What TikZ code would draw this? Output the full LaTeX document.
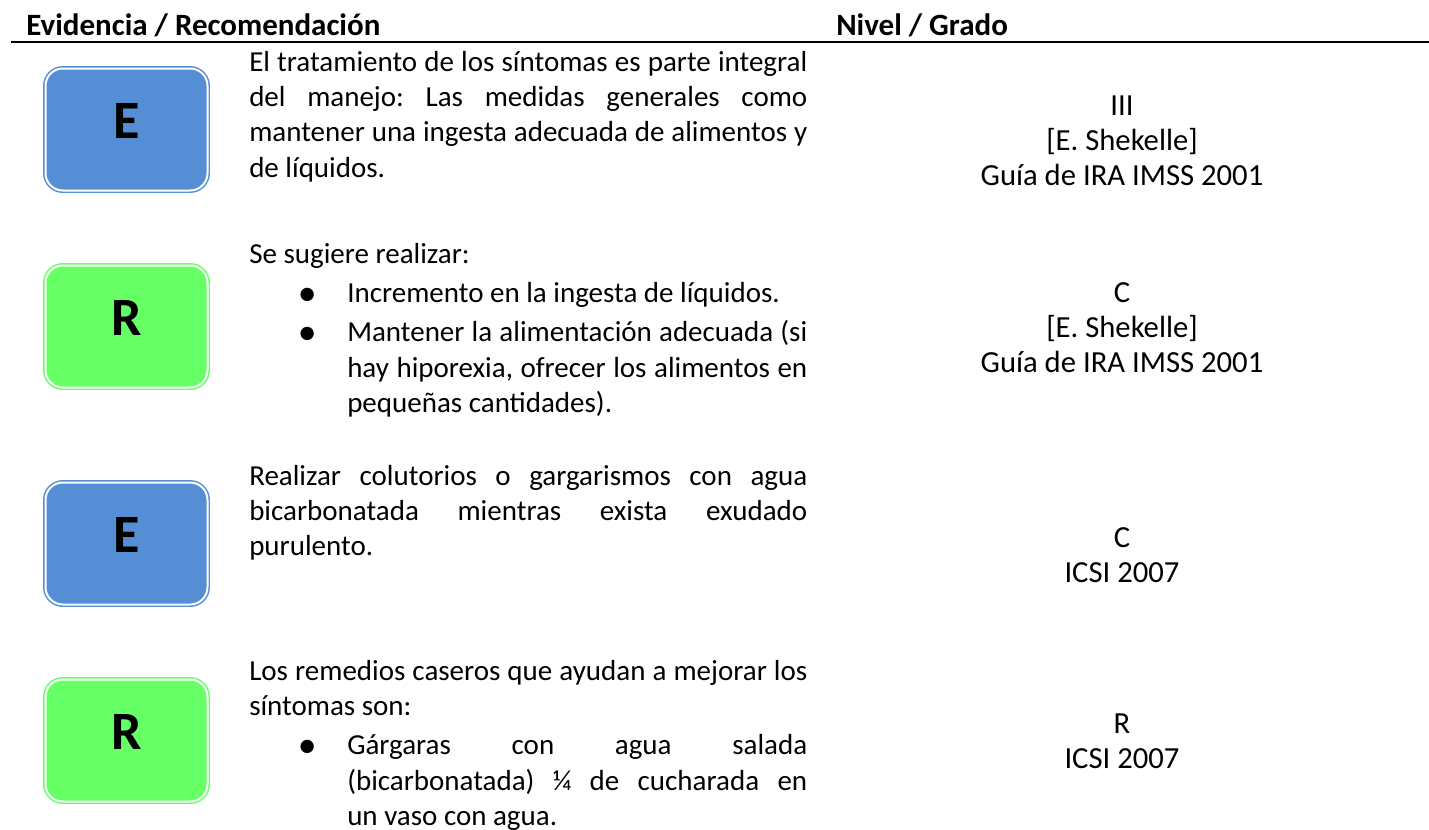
\documentclass[tikz,border=0pt]{standalone}
\usepackage{fontspec}
\setmainfont{Carlito}
\usepackage{xcolor}
\usepackage{tikz}

\definecolor{evblue}{RGB}{85,142,213}
\definecolor{regreen}{RGB}{102,255,102}

\newcommand{\bodyfont}{\fontsize{21.75pt}{26.6pt}\selectfont}
\newcommand{\gradofont}{\fontsize{23pt}{26.25pt}\selectfont}
\newcommand{\vineta}{\makebox[0pt][c]{\raisebox{-2.2pt}{\scalebox{1.3}{\textbullet}}}}
\newenvironment{vinetas}{\begin{list}{\vineta}{%
	\setlength{\leftmargin}{73.5pt}\setlength{\labelwidth}{0pt}%
	\setlength{\labelsep}{30pt}\setlength{\topsep}{3pt}%
	\setlength{\partopsep}{0pt}\setlength{\itemsep}{3pt}\setlength{\parsep}{0pt}}}%
	{\end{list}}
\tolerance=9999
\emergencystretch=2em
\hyphenpenalty=10000
\exhyphenpenalty=10000
\frenchspacing

\begin{document}
\begin{tikzpicture}[x=0.75pt, y=-0.75pt,
	caja/.style={draw, double=white, double distance=1.5pt, line width=1.1pt, rounded corners=13pt, minimum width=121.5pt, minimum height=91.5pt, inner sep=0pt},
	evid/.style={caja, draw=evblue, fill=evblue},
	recom/.style={caja, draw=regreen, fill=regreen},
	letra/.style={anchor=base, inner sep=0pt, font=\fontsize{40.5pt}{48pt}\selectfont\bfseries},
	texto/.style={anchor=base west, inner sep=0pt, font=\bodyfont},
	grado/.style={anchor=base, inner sep=0pt, font=\gradofont},
	titulo/.style={anchor=base west, inner sep=0pt, font=\fontsize{23.25pt}{28pt}\selectfont\bfseries}]
	\useasboundingbox (0,0) rectangle (1429,829);

	% encabezado
	\node[titulo] (evrec) at (26,35) {Evidencia / Recomendación};
	\node[titulo] (nivgra) at (836,35) {Nivel / Grado};
	\coordinate (reglaI) at (11,42);
	\coordinate (reglaD) at (1429,42);
	\draw[line width=1.1pt] (reglaI) -- (reglaD);

	% cajas
	\node[evid] (caja1) at (126.5,129.5) {};
	\node[recom] (caja2) at (126.5,326.5) {};
	\node[evid] (caja3) at (126.5,543.5) {};
	\node[recom] (caja4) at (126.5,740.5) {};
	\node[letra] (letra1) at ([yshift=-7pt]caja1.center) {E};
	\node[letra] (letra2) at ([yshift=-7pt]caja2.center) {R};
	\node[letra] (letra3) at ([yshift=-7pt]caja3.center) {E};
	\node[letra] (letra4) at ([yshift=-7pt]caja4.center) {R};

	% textos
	\node[texto] (texto1) at (249,71) {\parbox[t]{418.5pt}{El tratamiento de los síntomas es parte integral \linebreak del manejo: Las medidas generales como \linebreak mantener una ingesta adecuada de alimentos y \linebreak de líquidos.}};
	\node[texto] (texto2) at (249,263) {\parbox[t]{418.5pt}{Se sugiere realizar:
		\begin{vinetas}
		\item Incremento en la ingesta de líquidos.
		\item Mantener la alimentación adecuada (si \linebreak hay hiporexia, ofrecer los alimentos en \linebreak pequeñas cantidades).
		\end{vinetas}}};
	\node[texto] (texto3) at (249,485) {\parbox[t]{418.5pt}{Realizar colutorios o gargarismos con agua \linebreak bicarbonatada mientras exista exudado \linebreak purulento.}};
	\node[texto] (texto4) at (249,680) {\parbox[t]{418.5pt}{Los remedios caseros que ayudan a mejorar los \linebreak síntomas son:
		\begin{vinetas}
		\item Gárgaras con agua salada \linebreak (bicarbonatada) ¼ de cucharada en \linebreak un vaso con agua.
		\end{vinetas}}};

	% nivel / grado
	\node[grado] (grado1) at (1122,115) {\parbox[t]{300pt}{\centering III\\{[}E. Shekelle{]}\\Guía de IRA IMSS 2001}};
	\node[grado] (grado2) at (1122,302) {\parbox[t]{300pt}{\centering C\\{[}E. Shekelle{]}\\Guía de IRA IMSS 2001}};
	\node[grado] (grado3) at (1122,547) {\parbox[t]{300pt}{\centering C\\ICSI 2007}};
	\node[grado] (grado4) at (1122,733) {\parbox[t]{300pt}{\centering R\\ICSI 2007}};
\end{tikzpicture}
\end{document}
